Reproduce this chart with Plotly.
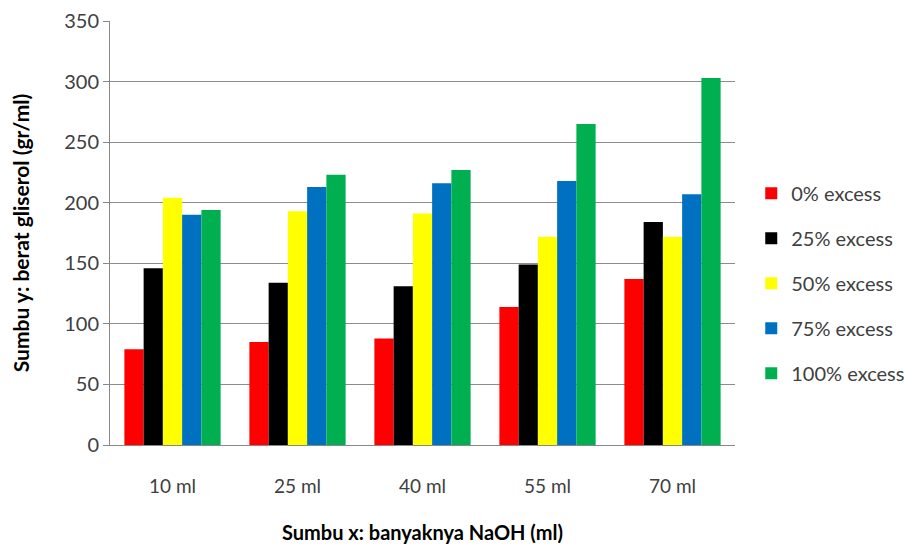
import plotly.graph_objects as go

# NaOH volume categories
categories = ["10 ml", "25 ml", "40 ml", "55 ml", "70 ml"]

# Glycerol weight (gr/ml) for each NaOH excess level
excess_0 = [79, 85, 88, 114, 137]
excess_25 = [146, 134, 131, 149, 184]
excess_50 = [204, 193, 191, 172, 172]
excess_75 = [190, 213, 216, 218, 207]
excess_100 = [194, 223, 227, 265, 303]

series_names = ["0% excess", "25% excess", "50% excess", "75% excess", "100% excess"]
series_values = [excess_0, excess_25, excess_50, excess_75, excess_100]
series_colors = ["#ff0000", "#000000", "#ffff00", "#0070c0", "#00b050"]

y_ticks = [0, 50, 100, 150, 200, 250, 300, 350]

font_family = "Lato, 'Liberation Sans', sans-serif"

fig = go.Figure()
for i, (name, vals, col) in enumerate(zip(series_names, series_values, series_colors)):
    fig.add_trace(go.Bar(
        x=categories,
        y=vals,
        name=name,
        marker=dict(color=col, line=dict(width=0)),
        legendgroup=f"g{i}",
    ))

fig.update_layout(
    width=913,
    height=550,
    margin=dict(l=110, r=178, t=21, b=105, autoexpand=False),
    paper_bgcolor="white",
    plot_bgcolor="white",
    barmode="group",
    bargap=0.23,
    bargroupgap=0,
    font=dict(family=font_family, color="#404040"),
    showlegend=True,
    legend=dict(
        x=1.026,
        y=0.64,
        xanchor="left",
        yanchor="top",
        font=dict(size=20, color="#404040"),
        tracegroupgap=16,
        itemwidth=30,
    ),
    xaxis=dict(
        showgrid=False,
        showline=True,
        linecolor="#888888",
        linewidth=1,
        ticks="",
        tickfont=dict(size=19, color="#404040"),
        ticklabelstandoff=24,
        automargin=False,
        title=dict(
            text="<b>Sumbu x: banyaknya NaOH (ml)</b>",
            font=dict(size=20, color="#000000"),
            standoff=30,
        ),
    ),
    yaxis=dict(
        range=[0, 350],
        tickvals=y_ticks,
        showgrid=True,
        gridcolor="#8c8c8c",
        gridwidth=1,
        showline=True,
        linecolor="#888888",
        linewidth=1,
        ticks="outside",
        ticklen=6,
        tickcolor="#888888",
        tickfont=dict(size=20, color="#404040"),
        zeroline=False,
        automargin=False,
        title=dict(
            text="<b>Sumbu y: berat gliserol (gr/ml)</b>",
            font=dict(size=21, color="#000000"),
            standoff=28,
        ),
    ),
)

fig.write_html("out.html")
